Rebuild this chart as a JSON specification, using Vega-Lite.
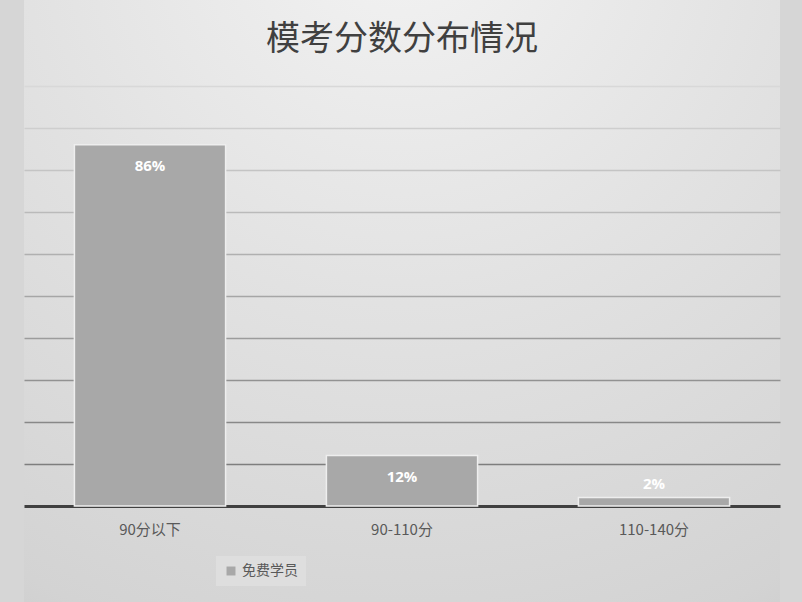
{
  "$schema": "https://vega.github.io/schema/vega-lite/v6.json",
  "width": 802,
  "height": 602,
  "autosize": {"type": "fit", "contains": "padding"},
  "padding": {"left": 24, "right": 22, "top": 0, "bottom": 0},
  "background": "#d6d6d6",
  "config": {
    "view": {
      "stroke": null,
      "fill": {
        "gradient": "radial",
        "x1": 0.5, "y1": 0.0, "r1": 0,
        "x2": 0.5, "y2": 0.0, "r2": 1.2,
        "stops": [
          {"offset": 0, "color": "#f3f3f3"},
          {"offset": 0.42, "color": "#e2e2e2"},
          {"offset": 0.83, "color": "#d3d3d3"},
          {"offset": 1, "color": "#c6c6c6"}
        ]
      }
    }
  },
  "title": {
    "text": "模考分数分布情况",
    "font": "Noto Sans CJK SC",
    "fontSize": 34,
    "fontWeight": "normal",
    "color": "#404040",
    "anchor": "middle",
    "baseline": "bottom",
    "offset": -91
  },
  "data": {
    "values": [
      {"range": "90分以下", "series": "免费学员", "share": 0.86},
      {"range": "90-110分", "series": "免费学员", "share": 0.12},
      {"range": "110-140分", "series": "免费学员", "share": 0.02}
    ]
  },
  "encoding": {
    "x": {
      "field": "range",
      "type": "nominal",
      "sort": null,
      "scale": {"paddingInner": 0.4, "paddingOuter": 0.2},
      "axis": {
        "title": null,
        "labelAngle": 0,
        "offset": -96,
        "ticks": false,
        "tickSize": 0,
        "labelPadding": 16,
        "labelFont": "Noto Sans CJK SC",
        "labelFontSize": 15,
        "labelColor": "#595959",
        "domainColor": "#404040",
        "domainWidth": 3,
        "grid": false
      }
    },
    "y": {
      "field": "share",
      "type": "quantitative",
      "scale": {"domain": [-0.2286, 1.2048], "nice": false, "zero": false},
      "axis": {
        "title": null,
        "labels": false,
        "ticks": false,
        "domain": false,
        "grid": true,
        "values": [0.1, 0.2, 0.3, 0.4, 0.5, 0.6, 0.7, 0.8, 0.9, 1.0],
        "gridWidth": 1.6,
        "gridColor": {
          "condition": [
            {"test": "datum.value < 0.15", "value": "#7e7e7e"},
            {"test": "datum.value < 0.25", "value": "#888888"},
            {"test": "datum.value < 0.35", "value": "#929292"},
            {"test": "datum.value < 0.45", "value": "#9c9c9c"},
            {"test": "datum.value < 0.55", "value": "#a6a6a6"},
            {"test": "datum.value < 0.65", "value": "#b0b0b0"},
            {"test": "datum.value < 0.75", "value": "#bababa"},
            {"test": "datum.value < 0.85", "value": "#c4c4c4"},
            {"test": "datum.value < 0.95", "value": "#cecece"}
          ],
          "value": "#d8d8d8"
        }
      }
    }
  },
  "layer": [
    {
      "mark": {"type": "bar", "stroke": "#eeeeee", "strokeWidth": 1.5},
      "encoding": {
        "color": {
          "field": "series",
          "type": "nominal",
          "scale": {"range": ["#a8a8a8"]},
          "legend": {
            "title": null,
            "orient": "none",
            "legendX": 192,
            "legendY": 556,
            "symbolType": "square",
            "symbolSize": 80,
            "symbolStrokeWidth": 0,
            "labelFont": "Noto Sans CJK SC",
            "labelFontSize": 14,
            "labelColor": "#595959",
            "fillColor": "#dedede",
            "padding": 8,
            "labelOffset": 4
          }
        }
      }
    },
    {
      "transform": [{"filter": "datum.share >= 0.1"}],
      "mark": {"type": "text", "dy": 21, "baseline": "middle", "font": "Open Sans", "fontWeight": "bold", "fontSize": 15, "color": "#ffffff"},
      "encoding": {"text": {"field": "share", "type": "quantitative", "format": ".0%"}}
    },
    {
      "transform": [{"filter": "datum.share < 0.1"}],
      "mark": {"type": "text", "dy": -14, "baseline": "middle", "font": "Open Sans", "fontWeight": "bold", "fontSize": 15, "color": "#ffffff"},
      "encoding": {"text": {"field": "share", "type": "quantitative", "format": ".0%"}}
    }
  ]
}
